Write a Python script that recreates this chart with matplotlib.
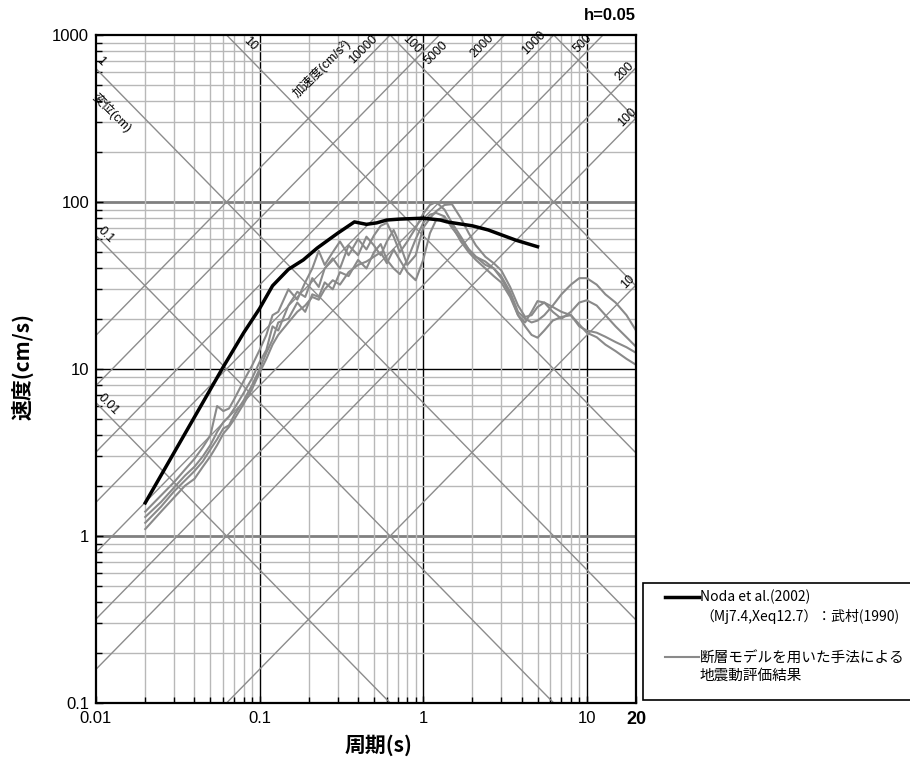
import numpy as np
import matplotlib
matplotlib.use('Agg')
import matplotlib.pyplot as plt
from matplotlib.ticker import LogLocator, NullFormatter
from matplotlib.lines import Line2D
from matplotlib.patches import Rectangle

# Noda et al.(2002) spectrum
period_noda = [0.02, 0.06, 0.08, 0.1, 0.12, 0.15, 0.185, 0.225, 0.3, 0.38, 0.45,
               0.52, 0.6, 0.72, 1.0, 1.27, 1.4, 2.0, 2.5, 3.7, 5.0]
vel_noda = [1.58, 10.3, 16.5, 23.0, 31.5, 39.5, 45.0, 53.0, 65.0, 76.0, 73.5,
            75.0, 78.0, 79.0, 80.0, 78.0, 76.0, 72.0, 68.0, 59.0, 54.0]

# fault model results (4 cases)
period_fault = [0.02, 0.025, 0.03, 0.035, 0.04, 0.045, 0.05, 0.055, 0.06, 0.065,
                0.07, 0.08, 0.09, 0.1, 0.11, 0.12, 0.13, 0.15, 0.17, 0.19,
                0.21, 0.23, 0.25, 0.28, 0.31, 0.35, 0.4, 0.45, 0.5, 0.55,
                0.6, 0.66, 0.72, 0.8, 0.9, 1.0, 1.1, 1.2, 1.35, 1.5,
                1.7, 1.9, 2.1, 2.4, 2.7, 3.0, 3.4, 3.8, 4.2, 4.6,
                5.0, 5.5, 6.2, 7.0, 8.0, 9.0, 10, 11.5, 13, 15, 17.5, 20]
vel_fault_1 = [1.4, 1.75, 2.1, 2.5, 2.9, 3.4, 4.0, 6.0, 5.6, 5.8,
               6.6, 8.5, 10.5, 13, 16, 21, 22, 30, 26, 33,
               40, 51, 42, 50, 58, 48, 60, 52, 63, 72,
               75, 62, 50, 58, 70, 85, 96, 100, 90, 75,
               62, 52, 47, 44, 40, 36, 29, 22, 20, 19,
               19.5, 21, 24, 28, 32, 35, 35, 32, 28, 25, 21, 17]
vel_fault_2 = [1.3, 1.6, 1.95, 2.3, 2.6, 3.0, 3.5, 4.2, 4.8, 5.2,
               5.8, 7.2, 8.8, 11, 13, 18, 17, 24, 29, 27,
               35, 31, 40, 46, 40, 55, 48, 62, 55, 48,
               58, 68, 56, 42, 48, 70, 80, 88, 96, 97,
               80, 65, 55, 47, 43, 39, 31, 24, 20.5, 21,
               23.5, 25, 22, 20, 22, 25, 25.8, 24, 21, 18, 15.5, 13.6]
vel_fault_3 = [1.2, 1.5, 1.85, 2.15, 2.45, 2.8, 3.3, 3.8, 4.4, 4.6,
               5.3, 6.5, 8.0, 10, 12.5, 15, 19, 20, 25, 22,
               28, 27, 33, 30, 38, 36, 45, 40, 50, 56,
               45, 40, 37, 45, 60, 75, 84, 86, 82, 70,
               60, 52, 47, 42, 40, 35, 28, 21, 19, 22,
               25.5, 25, 23.5, 22, 21, 18, 17, 16.5, 15.6, 14.5, 13.5, 12.5]
vel_fault_4 = [1.1, 1.4, 1.7, 2.0, 2.2, 2.6, 3.0, 3.5, 4.1, 4.5,
               5.0, 6.2, 7.6, 9.5, 11.5, 14, 16, 19, 22, 24,
               27, 26, 30, 34, 32, 38, 42, 44, 47, 50,
               43, 52, 45, 38, 34, 45, 65, 78, 80, 72,
               58, 50, 45, 40, 36, 33, 27, 21, 18, 16,
               15.4, 17, 19.5, 20.5, 21, 18.5, 16.5, 15.5, 14, 12.8, 11.5, 10.6]
fault_cases = [vel_fault_1, vel_fault_2, vel_fault_3, vel_fault_4]

# tripartite guide lines
disp_values = [0.01, 0.1, 1, 10, 100, 1000]      # cm
acc_values = [10, 100, 200, 500, 1000, 2000, 5000, 10000]   # cm/s2
disp_labels = {1: '1', 0.1: '0.1', 0.01: '0.01', 10: '10', 100: '100'}
acc_labels = {10000: '10000', 5000: '5000', 2000: '2000', 1000: '1000',
              500: '500', 200: '200', 100: '100', 10: '10'}

x_ticks = [0.01, 0.1, 1, 10, 20]
x_tick_labels = ['0.01', '0.1', '1', '10', '20']
y_ticks = [0.1, 1, 10, 100, 1000]
y_tick_labels = ['0.1', '1', '10', '100', '1000']

legend_labels = ['Noda et al.(2002)\n（Mj7.4,Xeq12.7）：武村(1990)',
                 '断層モデルを用いた手法による\n地震動評価結果']

T_MIN, T_MAX, V_MIN, V_MAX = 0.01, 20, 0.1, 1000
W, H = 910, 762

fig = plt.figure(figsize=(W / 100, H / 100), dpi=100)
ax = fig.add_axes([96 / W, 1 - 703 / H, 540 / W, 668 / H])
ax.set_xscale('log')
ax.set_yscale('log')
ax.set_xlim(T_MIN, T_MAX)
ax.set_ylim(V_MIN, V_MAX)

# grid
ax.xaxis.set_minor_locator(LogLocator(base=10, subs=np.arange(2, 10)))
ax.yaxis.set_minor_locator(LogLocator(base=10, subs=np.arange(2, 10)))
ax.xaxis.set_minor_formatter(NullFormatter())
ax.yaxis.set_minor_formatter(NullFormatter())
ax.grid(which='minor', color='#b8b8b8', lw=1, zorder=0)
for t in [0.1, 1, 10]:
    ax.axvline(t, color='black', lw=1, zorder=1)
ax.axhline(10, color='black', lw=1, zorder=1)
for v in [1, 100]:
    ax.axhline(v, color='#808080', lw=2, zorder=1)

t_line = np.logspace(np.log10(T_MIN), np.log10(T_MAX), 50)
for d in disp_values:
    ax.plot(t_line, 2 * np.pi * d / t_line, color='#8c8c8c', lw=1, zorder=2)
for a in acc_values:
    ax.plot(t_line, a * t_line / (2 * np.pi), color='#8c8c8c', lw=1, zorder=2)

lab_font = ['Liberation Sans', 'Noto Sans CJK JP']


def disp_anchor(d):
    v = 2 * np.pi * d / T_MIN
    if v <= V_MAX:
        return (T_MIN, v)
    return (2 * np.pi * d / V_MAX, V_MAX)


def acc_anchor(a):
    t = 2 * np.pi * V_MAX / a
    if t <= T_MAX:
        return (t, V_MAX)
    return (T_MAX, a * T_MAX / (2 * np.pi))


disp_offsets = {1: (5, 7), 0.1: (10, 1), 0.01: (12, -2), 10: (24, -9), 100: (21, -9)}
acc_offsets = {10000: (-27, -15), 5000: (-3, -18), 2000: (-22, -11), 1000: (-20, -8),
               500: (-20, -8), 200: (-11, -4), 100: (-9, 1), 10: (-8, 3)}

for d, txt in disp_labels.items():
    ax.annotate(txt, disp_anchor(d), xytext=disp_offsets[d], textcoords='offset pixels',
                rotation=-45, ha='center', va='center', fontsize=9, family=lab_font,
                annotation_clip=False, zorder=4)
ax.annotate('変位(cm)', disp_anchor(1), xytext=(16, -44), textcoords='offset pixels',
            rotation=-45, ha='center', va='center', fontsize=9, family=lab_font,
            annotation_clip=False, zorder=4)
for a, txt in acc_labels.items():
    ax.annotate(txt, acc_anchor(a), xytext=acc_offsets[a], textcoords='offset pixels',
                rotation=45, ha='center', va='center', fontsize=9, family=lab_font,
                annotation_clip=False, zorder=4)
ax.annotate('加速度(cm/s²)', acc_anchor(10000), xytext=(-68, -33), textcoords='offset pixels',
            rotation=45, ha='center', va='center', fontsize=9, family=lab_font,
            annotation_clip=False, zorder=4)

# spectra
for vel in fault_cases:
    ax.plot(period_fault, vel, color='#8a8a8a', lw=1.5, zorder=5)
ax.plot(period_noda, vel_noda, color='black', lw=2.5, zorder=6)

# axes styling
ax.set_xticks(x_ticks)
ax.set_xticklabels(x_tick_labels)
ax.set_yticks(y_ticks)
ax.set_yticklabels(y_tick_labels)
tick_font = ['Liberation Sans Narrow', 'Liberation Sans', 'DejaVu Sans']
for lbl in ax.get_xticklabels() + ax.get_yticklabels():
    lbl.set_family(tick_font)
    lbl.set_fontsize(12)
ax.get_xticklabels()[-1].set_fontweight('bold')
ax.get_xticklabels()[-1].set_fontsize(13)
ax.tick_params(which='both', direction='in', top=False, right=False, color='black', width=1)
ax.tick_params(which='major', length=5)
ax.tick_params(axis='x', which='major', pad=6)
ax.tick_params(axis='y', which='major', pad=5)
ax.tick_params(which='minor', length=4)
for s in ax.spines.values():
    s.set_linewidth(1.6)
    s.set_color('black')
    s.set_zorder(7)

fig.text(22 / W, 1 - 366 / H, '速度(cm/s)', rotation=90, ha='center', va='center',
         fontsize=15, fontweight='bold', family=['Noto Sans CJK JP'])
fig.text(378 / W, 1 - 745 / H, '周期(s)', ha='center', va='center',
         fontsize=15, fontweight='bold', family=['Noto Sans CJK JP'])
fig.text(636 / W, 1 - 16 / H, 'h=0.05', ha='right', va='center',
         fontsize=12, fontweight='bold', family=['Liberation Sans'])

# legend box drawn in figure pixels
fig.patches.append(Rectangle((643 / W, 1 - 700 / H), 290 / W, 117 / H, transform=fig.transFigure,
                             facecolor='white', edgecolor='black', lw=1.2))
fig.lines.append(Line2D([665 / W, 699 / W], [1 - 597 / H, 1 - 597 / H], transform=fig.transFigure,
                        color='black', lw=2.5))
fig.lines.append(Line2D([665 / W, 699 / W], [1 - 657 / H, 1 - 657 / H], transform=fig.transFigure,
                        color='#8a8a8a', lw=1.5))
fig.text(700 / W, 1 - 607 / H, legend_labels[0], ha='left', va='center', fontsize=10,
         family=['Noto Sans CJK JP'], linespacing=1.35)
fig.text(700 / W, 1 - 667 / H, legend_labels[1], ha='left', va='center', fontsize=10.5,
         family=['Noto Sans CJK JP'], linespacing=1.3)

fig.savefig('out.png', dpi=100)
